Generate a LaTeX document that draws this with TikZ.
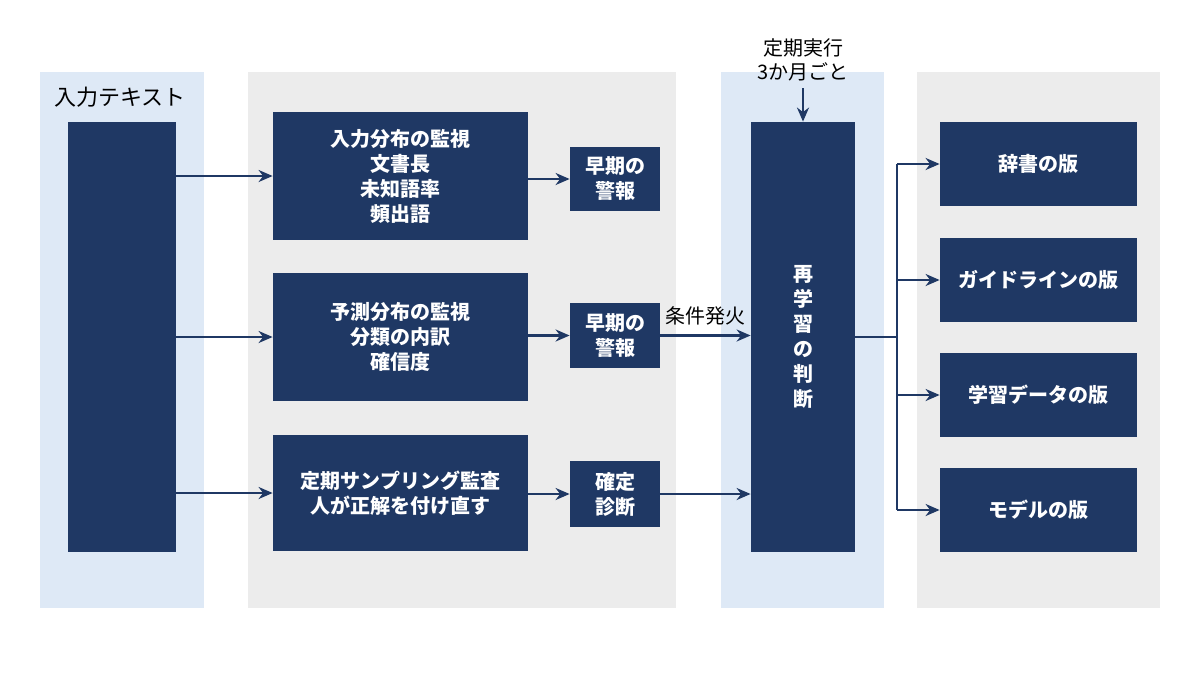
\documentclass[tikz,border=0pt]{standalone}
\usepackage{fontspec}
\setmainfont{Noto Sans CJK JP}
\usetikzlibrary{arrows.meta}
\definecolor{navy}{RGB}{31,56,100}
\definecolor{pblue}{RGB}{222,233,246}
\definecolor{pgray}{RGB}{236,236,236}
\begin{document}
\begin{tikzpicture}[x=0.5pt,y=-0.5pt,
 box/.style={fill=navy,draw=none,text=white,font=\bfseries\fontsize{10}{12.5}\selectfont,align=center},
 arr/.style={draw=navy,line width=1.3pt,-{Stealth[length=7pt,width=6pt]}},
 lbl/.style={text=black,font=\fontsize{10}{12}\selectfont,align=center}]
\useasboundingbox (0,0) rectangle (1200,675);
\fill[pblue] (40,72) rectangle (204,608);
\fill[pgray] (248,72) rectangle (676,608);
\fill[pblue] (721,72) rectangle (884,608);
\fill[pgray] (917,72) rectangle (1160,608);
\node[lbl,font=\fontsize{11}{13}\selectfont] (tin) at (120,97) {入力テキスト};
\path[box] (68,122) rectangle (176,552);
\coordinate (in1) at (176,176);
\coordinate (in2) at (176,337);
\coordinate (in3) at (176,493);
\node[box,minimum width=127.5pt,minimum height=64pt] (m1) at (400.5,176) {入力分布の監視\\文書長\\未知語率\\頻出語};
\node[box,minimum width=127.5pt,minimum height=64pt] (m2) at (400.5,337) {予測分布の監視\\分類の内訳\\確信度};
\node[box,minimum width=127.5pt,minimum height=58pt] (m3) at (400.5,493) {定期サンプリング監査\\人が正解を付け直す};
\node[box,minimum width=45pt,minimum height=32pt] (a1) at (615,179) {早期の\\警報};
\node[box,minimum width=45pt,minimum height=32.5pt] (a2) at (615,335.5) {早期の\\警報};
\node[box,minimum width=45pt,minimum height=33pt] (a3) at (615,494) {確定\\診断};
\node[box,minimum width=52pt,minimum height=215pt] (d) at (803,337) {再\\学\\習\\の\\判\\断};
\node[lbl] (sched) at (803,60) {定期実行\\3か月ごと};
\node[box,minimum width=98.5pt,minimum height=42pt] (r1) at (1038.5,164) {辞書の版};
\node[box,minimum width=98.5pt,minimum height=42pt] (r2) at (1038.5,280) {ガイドラインの版};
\node[box,minimum width=98.5pt,minimum height=42pt] (r3) at (1038.5,395) {学習データの版};
\node[box,minimum width=98.5pt,minimum height=42pt] (r4) at (1038.5,510) {モデルの版};
\draw[arr] (in1) -- (m1.west|-in1);
\draw[arr] (in2) -- (m2.west|-in2);
\draw[arr] (in3) -- (m3.west|-in3);
\draw[arr] (m1.east|-a1) -- (a1.west);
\draw[arr] (m2.east|-a2) -- (a2.west);
\draw[arr] (m3.east|-a3) -- (a3.west);
\draw[arr] (a2.east) -- node[lbl,above=1pt] {条件発火} (d.west|-a2);
\draw[arr] (a3.east) -- (d.west|-a3);
\draw[arr] (sched.south) -- (d.north);
\coordinate (j) at (897,337);
\draw[navy,line width=1.3pt] (d.east|-j) -- (j);
\draw[navy,line width=1.3pt] (897,164) -- (897,510);
\draw[arr] (897,164) -- (r1.west);
\draw[arr] (897,280) -- (r2.west);
\draw[arr] (897,395) -- (r3.west);
\draw[arr] (897,510) -- (r4.west);
\end{tikzpicture}
\end{document}
